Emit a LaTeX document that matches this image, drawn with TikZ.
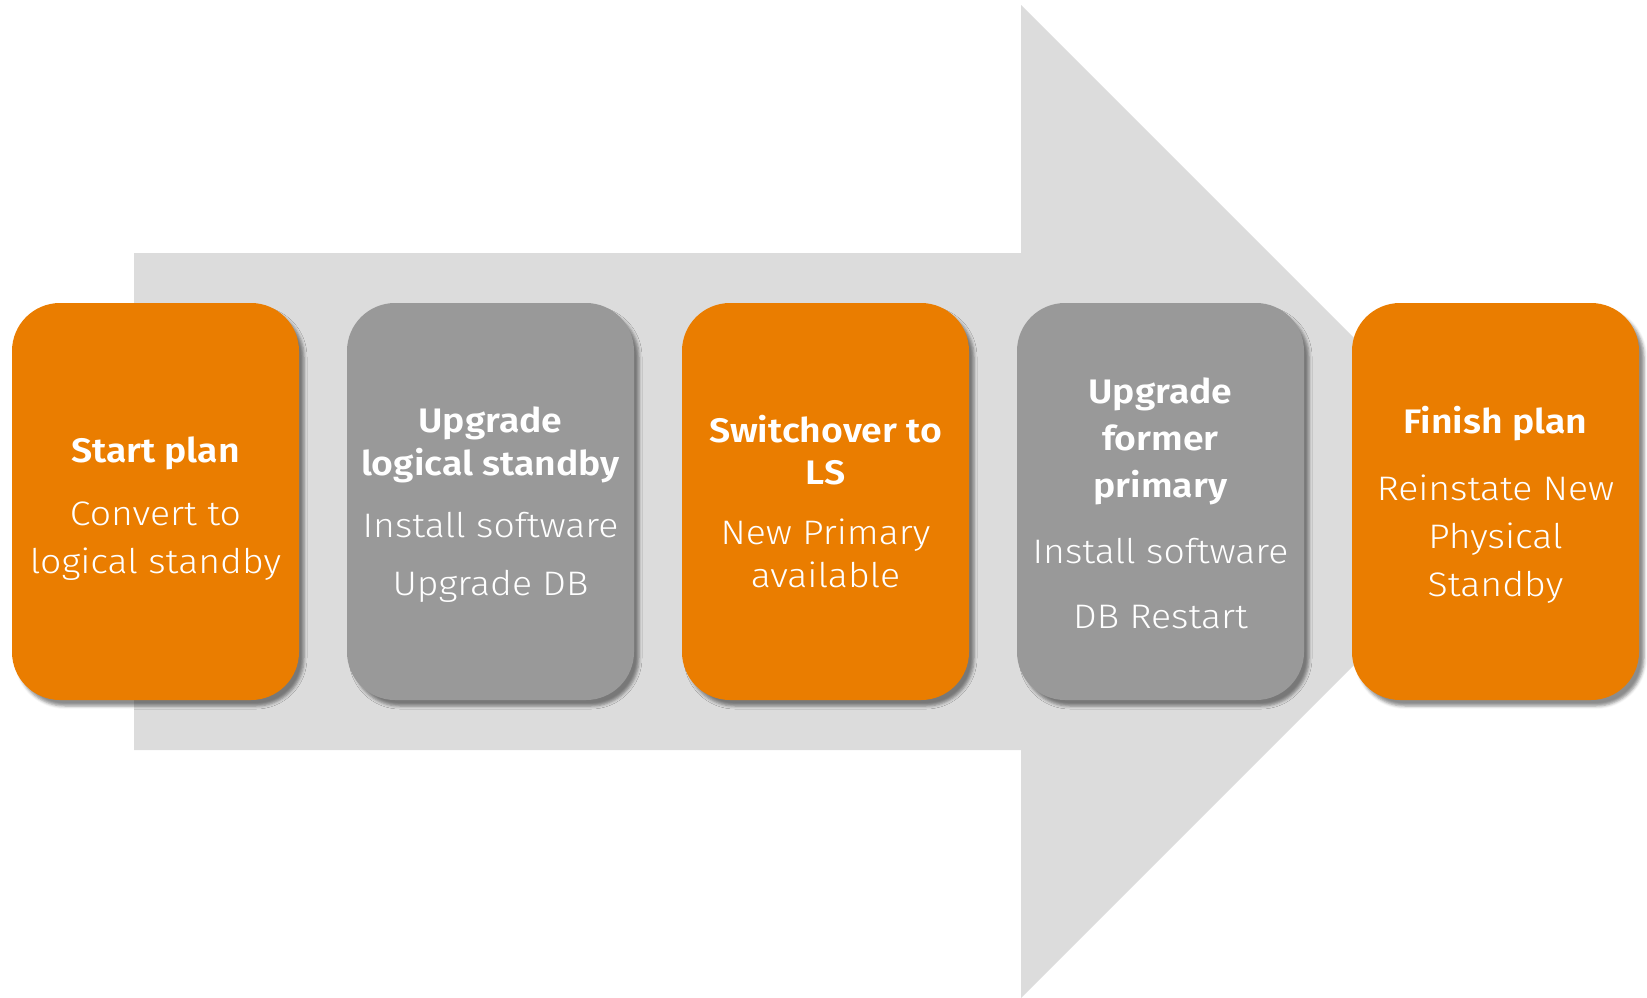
\documentclass[tikz,border=0pt]{standalone}
\usepackage{fontspec}
\setmainfont{Fira Sans}[BoldFont={Fira Sans SemiBold}, FakeStretch=1.1]
\newfontfamily\lightfont{Fira Sans Light}[FakeStretch=1.1]
\usetikzlibrary{shadows.blur}
\definecolor{stepOrange}{HTML}{EA7D00}
\definecolor{stepGray}{HTML}{999999}
\definecolor{arrowGray}{HTML}{DCDCDC}
\begin{document}
\begin{tikzpicture}[x=1pt,y=-1pt,
  card/.style={draw=none, rounded corners=48pt, minimum width=287pt, minimum height=397pt,
    inner sep=0pt, blur shadow={shadow xshift=5pt, shadow yshift=-6pt, shadow blur radius=3pt, shadow opacity=45}},
  orangecard/.style={card, fill=stepOrange},
  graycard/.style={card, fill=stepGray},
  head/.style={anchor=base, text=white, inner sep=0pt, font=\fontsize{34}{40}\selectfont\bfseries},
  body/.style={anchor=base, text=white, inner sep=0pt, font=\fontsize{34}{40}\selectfont\lightfont}]
\useasboundingbox (0,0) rectangle (1647,997);

% big background arrow
\fill[arrowGray] (134,253) -- (1021,253) -- (1021,5) -- (1517.5,501.5)
  -- (1021,998) -- (1021,750) -- (134,750) -- cycle;

% step cards
\node[orangecard] (s1) at (155.5,501.5) {};
\node[graycard]   (s2) at (490.5,501.5) {};
\node[orangecard] (s3) at (825.5,501.5) {};
\node[graycard]   (s4) at (1160.5,501.5) {};
\node[orangecard] (s5) at (1495.5,501.5) {};

% step 1
\node[head] (s1h1) at (155.5,462) {Start plan};
\node[body] (s1b1) at (155.5,525) {Convert to};
\node[body] (s1b2) at (155.5,573) {logical standby};

% step 2
\node[head] (s2h1) at (490.5,432) {Upgrade};
\node[head] (s2h2) at (490.5,475) {logical standby};
\node[body] (s2b1) at (490.5,537) {Install software};
\node[body] (s2b2) at (490.5,595) {Upgrade DB};

% step 3
\node[head] (s3h1) at (825.5,442) {Switchover to};
\node[head] (s3h2) at (825.5,484) {LS};
\node[body] (s3b1) at (825.5,544) {New Primary};
\node[body] (s3b2) at (825.5,587) {available};

% step 4
\node[head] (s4h1) at (1160.5,403) {Upgrade};
\node[head] (s4h2) at (1160.5,450) {former};
\node[head] (s4h3) at (1160.5,497) {primary};
\node[body] (s4b1) at (1160.5,563) {Install software};
\node[body] (s4b2) at (1160.5,628) {DB Restart};

% step 5
\node[head] (s5h1) at (1495.5,433) {Finish plan};
\node[body] (s5b1) at (1495.5,500) {Reinstate New};
\node[body] (s5b2) at (1495.5,548) {Physical};
\node[body] (s5b3) at (1495.5,596) {Standby};
\end{tikzpicture}
\end{document}
